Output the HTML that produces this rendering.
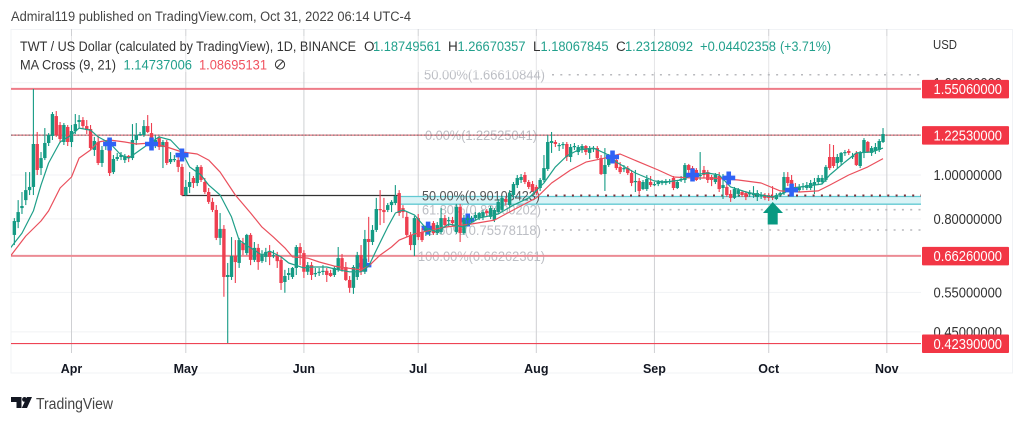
<!DOCTYPE html>
<html lang="en">
<head>
<meta charset="utf-8">
<title>TWT / US Dollar chart</title>
<style>
html,body{margin:0;padding:0;background:#fff;}
svg{display:block;font-family:"Liberation Sans",sans-serif;filter:blur(0.35px);}
</style>
</head>
<body>
<svg id="chart" xmlns="http://www.w3.org/2000/svg" width="1024" height="422" viewBox="0 0 1024 422">
  <defs><clipPath id="pane-clip"><rect x="11" y="29" width="911" height="325"/></clipPath></defs>
  <rect x="0" y="0" width="1024" height="422" fill="#ffffff"/>
  <text x="11" y="21" font-size="13.5" fill="#444" textLength="400" lengthAdjust="spacingAndGlyphs">Admiral119 published on TradingView.com, Oct 31, 2022 06:14 UTC-4</text>
  <rect x="11" y="29.5" width="1001.5" height="343.5" fill="none" stroke="#f1f3f6" stroke-width="1"/>
  <g id="grid"></g>
  <g id="fib-band"></g>
  <g id="fib-text"></g>
  <g id="levels" clip-path="url(#pane-clip)"></g>
  <g id="cross-under" clip-path="url(#pane-clip)"></g>
  <g id="candles" clip-path="url(#pane-clip)"></g>
  <g id="ma-lines" clip-path="url(#pane-clip)"></g>
  <g id="cross-over" clip-path="url(#pane-clip)"></g>
  <polygon points="772.7,202 783,213 777.7,213 777.7,224.5 767.7,224.5 767.7,213 763,213" fill="#089981"/>
  <g id="axis"></g>
  <rect x="12" y="36" width="908" height="36" fill="#ffffff" fill-opacity="0.45"/>
  <g font-size="13.5">
    <text x="20" y="51" fill="#333" textLength="336" lengthAdjust="spacingAndGlyphs">TWT / US Dollar (calculated by TradingView), 1D, BINANCE</text>
    <text x="364" y="51" fill="#333">O</text>
    <text x="373" y="51" fill="#22a08c" textLength="68" lengthAdjust="spacingAndGlyphs">1.18749561</text>
    <text x="448" y="51" fill="#333">H</text>
    <text x="457.5" y="51" fill="#22a08c" textLength="68" lengthAdjust="spacingAndGlyphs">1.26670357</text>
    <text x="533" y="51" fill="#333">L</text>
    <text x="540.5" y="51" fill="#22a08c" textLength="68" lengthAdjust="spacingAndGlyphs">1.18067845</text>
    <text x="616" y="51" fill="#333">C</text>
    <text x="625" y="51" fill="#22a08c" textLength="68" lengthAdjust="spacingAndGlyphs">1.23128092</text>
    <text x="700" y="51" fill="#22a08c" textLength="76" lengthAdjust="spacingAndGlyphs">+0.04402358</text>
    <text x="780" y="51" fill="#22a08c" textLength="51" lengthAdjust="spacingAndGlyphs">(+3.71%)</text>
    <text x="20" y="69.5" fill="#333" textLength="96" lengthAdjust="spacingAndGlyphs">MA Cross (9, 21)</text>
    <text x="123.5" y="69.5" fill="#22a08c" textLength="68.5" lengthAdjust="spacingAndGlyphs">1.14737006</text>
    <text x="199" y="69.5" fill="#f0525f" textLength="68" lengthAdjust="spacingAndGlyphs">1.08695131</text>
    <g fill="none" stroke="#333" stroke-width="1">
      <circle cx="280" cy="64.5" r="4.6"/>
      <line x1="276.8" y1="68" x2="283.2" y2="61"/>
    </g>
  </g>
  <text x="933" y="49" font-size="13" fill="#333" textLength="24" lengthAdjust="spacingAndGlyphs">USD</text>
  <g>
    <path d="M11 397h10.5v11h-5v-6h-5.5z" fill="#131722"/>
    <circle cx="24.5" cy="399.4" r="2.4" fill="#131722"/>
    <path d="M27 397h5l-5 11h-5.2z" fill="#131722"/>
    <text x="36" y="409" font-size="15.5" fill="#444" textLength="77" lengthAdjust="spacingAndGlyphs">TradingView</text>
  </g>
<script>
// Day index 0 = Mar 17 2022; every array below holds one entry per daily candle.
const opens = [
.737,.787,.845,.880,.926,.941,1.171,1.036,1.090,1.177,
1.220,1.350,1.290,1.183,1.277,1.183,1.251,1.310,1.323,1.283,
1.264,1.136,1.183,1.063,1.165,1.136,1.015,1.085,1.096,1.079,
1.102,1.090,1.195,1.226,1.226,1.283,1.238,1.177,1.207,1.153,
1.183,1.068,1.079,1.079,1.042,.903,.941,.985,.960,1.042,
.965,.917,.872,.837,.726,.760,.595,.595,.662,.639,
.707,.672,.737,.649,.690,.645,.659,.676,.662,.665,
.649,.580,.601,.595,.623,.693,.672,.611,.632,.604,
.607,.611,.614,.607,.601,.617,.655,.626,.586,.563,
.595,.665,.611,.722,.711,.756,.841,.837,.837,.858,
.867,.912,.845,.808,.737,.700,.803,.748,.748,.748,
.783,.744,.748,.803,.791,.795,.748,.850,.744,.795,
.799,.803,.803,.808,.833,.808,.795,.828,.837,.885,
.858,.903,.950,.975,1.0,.965,.955,.941,.936,.975,
1.031,1.177,1.183,1.159,1.165,1.171,1.096,1.153,1.124,1.142,
1.159,1.119,1.142,1.147,1.090,1.005,1.052,1.090,1.079,1.042,
1.031,1.036,1.010,.965,.970,.931,.931,.965,.950,.955,
.960,.960,.965,.985,.936,.975,.975,1.052,1.036,1.026,
.995,1.026,1.015,.990,.965,.995,.936,.941,.908,.890,
.908,.917,.912,.908,.903,.894,.899,.903,.903,.899,
.885,.903,.912,.990,.975,.941,.926,.941,.936,.936,
.950,.965,.965,.975,1.096,1.096,1.063,1.068,1.119,1.130,
1.096,1.119,1.047,1.119,1.183,1.119,1.130,1.136,1.183];
const closes = [
.791,.828,.854,.926,.941,1.171,1.026,1.090,1.177,1.226,
1.364,1.226,1.201,1.290,1.183,1.251,1.296,1.323,1.283,1.257,
1.147,1.189,1.063,1.136,1.177,1.010,1.085,1.096,1.107,1.102,
1.090,1.195,1.226,1.232,1.283,1.245,1.153,1.195,1.153,1.183,
1.063,1.085,1.085,1.042,.903,.941,.965,.960,1.042,.975,
.917,.872,.837,.726,.760,.595,.601,.662,.642,.718,
.682,.737,.649,.690,.642,.665,.676,.659,.665,.645,
.577,.598,.607,.623,.693,.672,.611,.632,.601,.607,
.611,.614,.601,.598,.623,.655,.617,.586,.563,.626,
.665,.611,.722,.711,.756,.841,.837,.828,.858,.872,
.899,.824,.828,.737,.700,.803,.729,.718,.763,.752,
.744,.775,.803,.775,.795,.783,.850,.744,.795,.803,
.803,.816,.824,.828,.824,.845,.837,.872,.890,.872,
.912,.955,.985,.990,.965,.941,.922,.912,.975,1.036,
1.183,1.189,1.171,1.165,1.171,1.096,1.153,1.159,1.153,1.159,
1.124,1.147,1.147,1.090,1.005,1.052,1.096,1.096,1.036,1.015,
1.036,1.010,.960,.970,.922,.965,.980,.950,.955,.965,
.965,.970,.970,.936,.965,.980,1.052,1.026,.990,.975,
1.0,1.0,.975,.975,1.0,.931,.950,.903,.890,.931,
.926,.903,.894,.912,.908,.912,.903,.890,.890,.890,
.903,.912,.990,.960,.941,.926,.941,.945,.950,.960,
.965,.985,.985,1.042,1.036,1.047,1.096,1.119,1.124,1.119,
1.102,1.052,1.119,1.195,1.124,1.147,1.153,1.189,1.232];
const highs = [
.803,.880,.917,1.015,1.015,1.550,1.245,1.124,1.270,1.238,
1.378,1.385,1.310,1.303,1.290,1.290,1.364,1.357,1.343,1.323,
1.290,1.214,1.220,1.159,1.195,1.195,1.107,1.119,1.124,1.113,
1.107,1.296,1.303,1.245,1.323,1.357,1.303,1.226,1.220,1.195,
1.195,1.124,1.107,1.102,1.058,.975,1.015,.995,1.052,1.052,
.985,.936,.890,.858,.824,.775,.639,.729,.718,.726,
.726,.741,.744,.711,.704,.682,.690,.700,.682,.676,
.662,.617,.623,.626,.700,.707,.682,.642,.642,.623,
.623,.632,.623,.617,.629,.693,.669,.642,.598,.632,
.676,.700,.756,.808,.775,.890,.926,.890,.867,.880,
.950,.926,.858,.828,.748,.812,.820,.763,.771,.763,
.791,.787,.845,.816,.808,.808,.863,.863,.816,.812,
.812,.828,.828,.837,.841,.854,.845,.885,.899,.899,
.926,.965,1.0,1.005,1.015,.975,.970,.950,.985,1.107,
1.226,1.245,1.195,1.177,1.183,1.183,1.171,1.177,1.165,1.171,
1.165,1.159,1.159,1.159,1.107,1.147,1.113,1.107,1.090,1.068,
1.052,1.047,1.026,1.026,.985,.975,1.0,.995,.965,.975,
.975,.980,.980,.995,.975,.995,1.063,1.058,1.047,1.036,
1.124,1.047,1.026,1.0,1.010,1.015,1.005,.965,.926,.941,
.936,.926,.922,.926,.945,.926,.917,.912,.912,.945,
.912,.917,1.015,1.015,1.0,.960,.955,.960,.965,.975,
.985,1.0,1.0,1.052,1.171,1.165,1.113,1.124,1.136,1.142,
1.119,1.130,1.130,1.207,1.189,1.159,1.177,1.201,1.270];
const lows = [
.700,.763,.820,.858,.903,.903,1.0,1.0,1.079,1.159,
1.195,1.214,1.177,1.165,1.159,1.153,1.232,1.270,1.264,1.232,
1.136,1.102,1.052,1.042,1.136,.995,1.005,1.074,1.079,1.063,
1.068,1.079,1.165,1.220,1.214,1.238,1.136,1.147,1.136,1.036,
1.052,1.058,1.068,1.015,.899,.899,.912,.936,.945,.965,
.908,.863,.828,.718,.700,.538,.425,.586,.577,.623,
.665,.665,.632,.642,.617,.639,.642,.632,.655,.623,
.557,.549,.586,.589,.601,.632,.592,.601,.586,.595,
.598,.601,.580,.595,.595,.611,.611,.583,.549,.546,
.586,.601,.604,.642,.700,.748,.775,.783,.828,.828,
.858,.812,.803,.729,.682,.662,.718,.711,.733,.733,
.737,.737,.741,.763,.771,.771,.741,.711,.737,.779,
.787,.795,.795,.795,.812,.799,.787,.820,.828,.858,
.850,.890,.936,.960,.955,.931,.917,.903,.922,.965,
1.021,1.119,1.153,1.130,1.142,1.074,1.068,1.136,1.107,1.119,
1.107,1.085,1.124,1.085,1.0,.922,1.042,1.079,1.026,1.005,
1.015,1.0,.945,.917,.908,.926,.922,.941,.945,.945,
.950,.950,.955,.926,.931,.965,.960,.995,.975,.970,
.975,.985,.960,.945,.955,.917,.885,.894,.872,.885,
.894,.894,.880,.894,.890,.876,.885,.880,.876,.880,
.880,.894,.903,.945,.926,.917,.917,.926,.926,.926,
.908,.950,.955,.965,1.026,1.036,1.036,1.052,1.102,1.107,
1.085,1.047,1.036,1.090,1.119,1.102,1.113,1.124,1.177];

const ma9Days = [-1,2,5,7,9,12,15,17,20,22,25,28,30,33,36,38,41,44,46,49,51,54,57,59,62,65,67,70,72,76,78,82,85,88,91,93,95,98,100,102,105,108,111,114,118,122,127,131,135,139,142,145,148,152,156,158,163,168,171,175,178,182,185,188,192,196,199,202,204,208,212,214,218,221,225,228];
const ma9Values = [.690,.744,.833,.950,1.063,1.183,1.226,1.270,1.257,1.214,1.177,1.107,1.090,1.136,1.183,1.214,1.195,1.124,1.042,1.0,.950,.903,.808,.718,.690,.665,.679,.659,.639,.623,.626,.626,.617,.611,.611,.629,.682,.767,.824,.837,.816,.763,.748,.779,.767,.803,.820,.858,.890,.960,1.042,1.102,1.136,1.147,1.107,1.068,1.010,.970,.965,.975,1.0,1.010,1.0,.941,.917,.903,.894,.912,.936,.945,.955,1.0,1.068,1.119,1.124,1.147];
const ma21Days = [-1,3,7,9,12,15,17,20,22,25,29,32,36,40,44,48,51,54,58,62,65,68,71,73,77,80,84,87,91,93,96,99,101,105,113,120,126,131,137,141,146,150,155,159,164,169,173,178,183,190,196,201,206,211,214,219,224,228];
const ma21Values = [.662,.733,.791,.833,.936,.990,1.090,1.136,1.183,1.195,1.183,1.171,1.177,1.153,1.124,1.113,1.079,1.015,.903,.824,.767,.729,.690,.659,.655,.642,.629,.623,.617,.629,.665,.693,.718,.741,.767,.779,.795,.837,.890,.960,1.026,1.068,1.090,1.113,1.068,1.026,.990,.985,.985,.975,.960,.922,.917,.922,.950,1.0,1.042,1.087];

const crossDaysOver = [25,36,44,157,178,187.5,204];
const crossPricesOver = [1.171,1.171,1.107,1.096,1.0,.985,.926];
const crossDaysUnder = [92,108.6,119];
const crossPricesUnder = [.632,.763,.795];

const priceTicks = [1.6,1.0,0.8,0.55,0.45];
const priceTickLabels = ["1.60000000","1.00000000","0.80000000","0.55000000","0.45000000"];
const monthDays = [15,45,76,106,137,168,198,229];
const monthLabels = ["Apr","May","Jun","Jul","Aug","Sep","Oct","Nov"];
const levelPrices = [1.5506,1.2253,0.6626,0.4239];
const levelLabels = ["1.55060000","1.22530000","0.66260000","0.42390000"];
const fibPrices = [1.66610844,1.22525041,0.90103423,0.83800202,0.75578118,0.66262361];
const fibLabels = ["50.00%(1.66610844)","0.00%(1.22525041)","50.00%(0.90103423)","61.80%(0.83800202)","78.60%(0.75578118)","100.00%(0.66262361)"];

function xOf(day){ return 14.35 + 3.81 * day; }
function yOf(price){ return 175 - 196.4 * Math.log(price); }

const NS = 'http://www.w3.org/2000/svg';
function make(tag, attrs, parent){
  const el = document.createElementNS(NS, tag);
  for (const k in attrs) el.setAttribute(k, attrs[k]);
  parent.appendChild(el);
  return el;
}

const gridLayer = document.getElementById('grid');
priceTicks.forEach(function(p){
  const el = make('line', {x1:11, x2:921, y1:yOf(p), y2:yOf(p), stroke:'#f1f2f4', 'stroke-width':1}, gridLayer);
  
  
});
monthDays.forEach(function(d){
  const el = make('line', {x1:xOf(d), x2:xOf(d), y1:29, y2:353, stroke:'#cfd0d3', 'stroke-width':1}, gridLayer);
  
  
});

const fibBand = document.getElementById('fib-band');
const bandTop = make('rect', {x:400, y:yOf(fibPrices[2]) + 1, width:521, height:yOf(fibPrices[3]) - yOf(fibPrices[2]) - 6.5, fill:'#d9f3f6', stroke:'none'}, fibBand);


[1, yOf(fibPrices[3]) - yOf(fibPrices[2]) - 5.5].forEach(function(off){
  const el = make('line', {x1:400, x2:921, y1:yOf(fibPrices[2]) + off, y2:yOf(fibPrices[2]) + off, stroke:'#62c9d2', 'stroke-width':1.3}, fibBand);
  
  
});
const blackLine = make('line', {x1:182, x2:400, y1:yOf(fibPrices[2]), y2:yOf(fibPrices[2]), stroke:'#333', 'stroke-width':1.2}, fibBand);


[[0,552],[3,545],[4,545]].forEach(function(pair){
  const y = yOf(fibPrices[pair[0]]);
  const el = make('line', {x1:pair[1], x2:921, y1:y, y2:y, stroke:'#b8b9bd', 'stroke-width':1.6, 'stroke-dasharray':'2 6.3'}, fibBand);
  
  
});
const midDots = make('line', {x1:547, x2:921, y1:yOf(fibPrices[2]), y2:yOf(fibPrices[2]), stroke:'#7c2f38', 'stroke-width':2, 'stroke-dasharray':'2 6.3'}, fibBand);



const fibTextLayer = document.getElementById('fib-text');
const fibTextX = [424,425,422,422,420,418];
const fibTextW = [121,112,118,119,121,127];
fibLabels.forEach(function(label, i){
  const el = make('text', {x:fibTextX[i], y:yOf(fibPrices[i]) + 5, 'font-size':14, fill:(i === 2 ? '#555' : '#bcbec4'), textLength:fibTextW[i], lengthAdjust:'spacingAndGlyphs'}, fibTextLayer);
  el.textContent = label;
  
  
});

const levelLayer = document.getElementById('levels');
const levelWidths = [2,1,2,1.2];
const levelColors = ['#ee7c88','#d9535f','#ec8b94','#ee4455'];
levelPrices.forEach(function(p, i){
  const el = make('line', {x1:11, x2:921, y1:yOf(p), y2:yOf(p), stroke:levelColors[i], 'stroke-width':levelWidths[i]}, levelLayer);
  
  
});
const topDots = make('line', {x1:11, x2:921, y1:yOf(levelPrices[1]), y2:yOf(levelPrices[1]), stroke:'#6d5a5e', 'stroke-width':1, 'stroke-dasharray':'1.5 2'}, levelLayer);



function drawCross(layer, day, price){
  const x = xOf(day), y = yOf(price);
  const c = make('path', {d:'M'+(x-2.3)+' '+(y-6.5)+'h4.6v4.2h4.2v4.6h-4.2v4.2h-4.6v-4.2h-4.2v-4.6h4.2z', fill:'#2f62f5'}, layer);
  
  
}
const crossUnder = document.getElementById('cross-under');
crossDaysUnder.forEach(function(d, i){ drawCross(crossUnder, d, crossPricesUnder[i]); });

const candleLayer = document.getElementById('candles');
opens.forEach(function(o, i){
  const c = closes[i], up = c >= o;
  const color = up ? '#149a84' : '#ee3f50';
  const x = xOf(i);
  const wick = make('line', {x1:x, x2:x, y1:yOf(highs[i]), y2:yOf(lows[i]), stroke:color, 'stroke-width':1.1}, candleLayer);
  
  
  const top = yOf(Math.max(o, c)), bot = yOf(Math.min(o, c));
  const body = make('rect', {x:x - 1.7, y:top, width:3.4, height:Math.max(bot - top, 1.2), fill:color}, candleLayer);
  
  
});

const maLayer = document.getElementById('ma-lines');
function polyPoints(days, vals){
  return days.map(function(d, i){ return xOf(d).toFixed(1) + ',' + yOf(vals[i]).toFixed(1); }).join(' ');
}
const ma21Line = make('polyline', {points:polyPoints(ma21Days, ma21Values), fill:'none', stroke:'#ea4f5c', 'stroke-width':1.2, 'stroke-linejoin':'round'}, maLayer);


const ma9Line = make('polyline', {points:polyPoints(ma9Days, ma9Values), fill:'none', stroke:'#1f9f89', 'stroke-width':1.2, 'stroke-linejoin':'round'}, maLayer);



const crossOver = document.getElementById('cross-over');
crossDaysOver.forEach(function(d, i){ drawCross(crossOver, d, crossPricesOver[i]); });

const axisLayer = document.getElementById('axis');
monthLabels.forEach(function(label, i){
  const el = make('text', {x:xOf(monthDays[i]), y:373, 'font-size':12.5, 'font-weight':'bold', fill:'#131722', 'text-anchor':'middle'}, axisLayer);
  el.textContent = label;
  
  
});
priceTickLabels.forEach(function(label, i){
  const el = make('text', {x:933.5, y:yOf(priceTicks[i]) + 5.2, 'font-size':14.5, fill:'#333', textLength:68.5, lengthAdjust:'spacingAndGlyphs'}, axisLayer);
  el.textContent = label;
  
  
});
levelLabels.forEach(function(label, i){
  const y = yOf(levelPrices[i]);
  const box = make('rect', {x:922, y:y - 9, width:87, height:18.5, rx:1, fill:'#f23645'}, axisLayer);
  
  
  const el = make('text', {x:933.5, y:y + 5.2, 'font-size':14.5, fill:'#ffffff', textLength:68.5, lengthAdjust:'spacingAndGlyphs'}, axisLayer);
  el.textContent = label;
  
  
});
</script>
</svg>
</body>
</html>
